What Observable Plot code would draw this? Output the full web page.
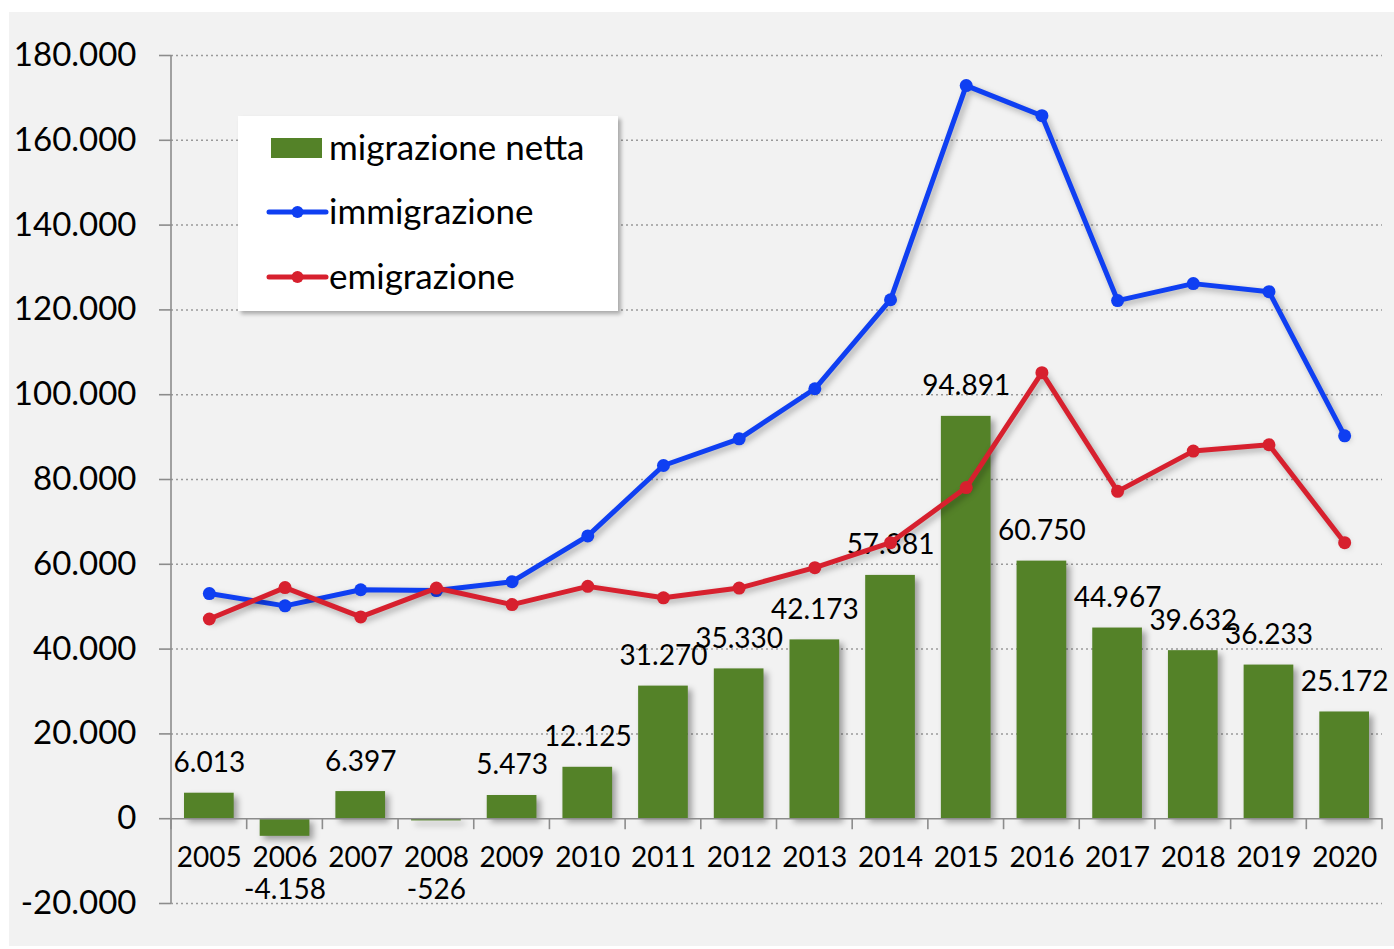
<!DOCTYPE html>
<html><head><meta charset="utf-8">
<script src="https://cdn.jsdelivr.net/npm/d3@7"></script>
<script src="https://cdn.jsdelivr.net/npm/@observablehq/plot@0.6"></script>
<style>
body{margin:0;background:#fff;font-family:Lato,sans-serif;}
#wrap{position:relative;width:1394px;height:949px;overflow:hidden;background:#fff}
#panel{position:absolute;left:9px;top:12px;right:0;bottom:3px;background:#f2f2f2}
#chart{position:absolute;left:0;top:0}
#legend{position:absolute;left:238px;top:116px;width:380px;height:195px;background:#fff;box-shadow:3px 3px 4px rgba(0,0,0,0.3)}
g[aria-label="bar"]{filter:drop-shadow(4px 4px 3px rgba(0,0,0,0.35))}
g[aria-label="line"]{filter:drop-shadow(3px 3px 3px rgba(0,0,0,0.3))}
</style>
</head><body>
<div id="wrap"><div id="panel"></div><div id="chart"></div><div id="legend"></div></div>
<script>
const years = [2005,2006,2007,2008,2009,2010,2011,2012,2013,2014,2015,2016,2017,2018,2019,2020];
const migrazioneNetta = [6013,-4158,6397,-526,5473,12125,31270,35330,42173,57381,94891,60750,44967,39632,36233,25172];
const immigrazione = [53100,50200,54000,53800,55900,66700,83300,89600,101400,122400,172900,165800,122200,126200,124300,90300];
const emigrazione = [47100,54500,47600,54400,50500,54800,52100,54400,59200,65100,78100,105200,77200,86700,88200,65100];
const yTicks = [-20000,0,20000,40000,60000,80000,100000,120000,140000,160000,180000];
const seriesNames = ["migrazione netta","immigrazione","emigrazione"];
const colors = {net:"#548228", imm:"#0f3ff2", emi:"#d7202e"};
const axisGray = "#8c8c8c";

const it = d3.formatLocale({decimal:",", thousands:".", grouping:[3], currency:["","€"], minus:"-"});
const fmt = it.format(",d");
const rows = years.map((y,i)=>({year:String(y), net:migrazioneNetta[i], imm:immigrazione[i], emi:emigrazione[i]}));

const frameLeft = (index, scales, values, dims) => {
  const g = d3.create("svg:g");
  g.append("line")
    .attr("x1", dims.marginLeft).attr("x2", dims.marginLeft)
    .attr("y1", dims.marginTop).attr("y2", dims.height - dims.marginBottom)
    .attr("stroke", axisGray).attr("stroke-width", 1.6);
  return g.node();
};
const xTicks = (index, scales, values, dims) => {
  const g = d3.create("svg:g");
  const x = scales.x, y0 = scales.y(0);
  const bw = x.bandwidth();
  const pos = rows.map(d => x(d.year)).concat([x(rows[rows.length-1].year) + bw]);
  for (const p of pos) {
    g.append("line").attr("x1", p).attr("x2", p).attr("y1", y0).attr("y2", y0 + 11)
      .attr("stroke", axisGray).attr("stroke-width", 1.6);
  }
  return g.node();
};

const chart = Plot.plot({
  width:1394, height:949,
  marginLeft:171, marginRight:12, marginTop:55, marginBottom:46,
  style:{background:"transparent", fontFamily:"Lato, sans-serif", color:"#000", overflow:"visible"},
  x:{type:"band", domain: rows.map(d=>d.year), padding:0, round:false, axis:null},
  y:{domain:[-20000,180000], axis:null},
  marks:[
    Plot.ruleY(yTicks.filter(t=>t!==0), {stroke:"#9a9a9a", strokeDasharray:"2,3", strokeWidth:1.5}),
    Plot.axisY(yTicks, {tickSize:12, tickPadding:23, fontSize:33, stroke:axisGray, strokeWidth:1.6, tickFormat:fmt, label:null}),
    frameLeft,
    Plot.barY(rows, {x:"year", y:"net", fill:colors.net, insetLeft:13, insetRight:13}),
    Plot.ruleY([0], {stroke:axisGray, strokeWidth:1.6}),
    xTicks,
    Plot.text(rows.filter(d=>d.net>=0), {x:"year", y:"net", text:d=>fmt(d.net), dy:-30, fontSize:28, fill:"#000"}),
    Plot.text(rows.filter(d=>d.net<0), {x:"year", y:()=>0, text:d=>fmt(d.net), dy:71, fontSize:28, fill:"#000"}),
    Plot.text(rows, {x:"year", y:()=>0, text:"year", dy:39, fontSize:28, fill:"#000"}),
    Plot.line(rows, {x:"year", y:"imm", stroke:colors.imm, strokeWidth:5}),
    Plot.dot(rows, {x:"year", y:"imm", fill:colors.imm, r:6.5}),
    Plot.line(rows, {x:"year", y:"emi", stroke:colors.emi, strokeWidth:5}),
    Plot.dot(rows, {x:"year", y:"emi", fill:colors.emi, r:6.5})
  ]
});
document.getElementById("chart").appendChild(chart);

// legend
const lg = d3.select("#legend").append("svg").attr("width",380).attr("height",195)
  .style("font-family","Lato, sans-serif");
const items = [{name:seriesNames[0], key:"net", cy:32},{name:seriesNames[1], key:"imm", cy:96},{name:seriesNames[2], key:"emi", cy:161}];
for (const it2 of items) {
  if (it2.key === "net") {
    lg.append("rect").attr("x",33).attr("y",it2.cy-10).attr("width",51).attr("height",20).attr("fill",colors.net);
  } else {
    lg.append("line").attr("x1",31).attr("x2",88).attr("y1",it2.cy).attr("y2",it2.cy)
      .attr("stroke",colors[it2.key]).attr("stroke-width",5).attr("stroke-linecap","round");
    lg.append("circle").attr("cx",59.5).attr("cy",it2.cy).attr("r",6).attr("fill",colors[it2.key]);
  }
  lg.append("text").attr("x",91).attr("y",it2.cy).attr("dy","0.35em").attr("font-size",35).attr("fill","#000").text(it2.name);
}
</script>
</body></html>
